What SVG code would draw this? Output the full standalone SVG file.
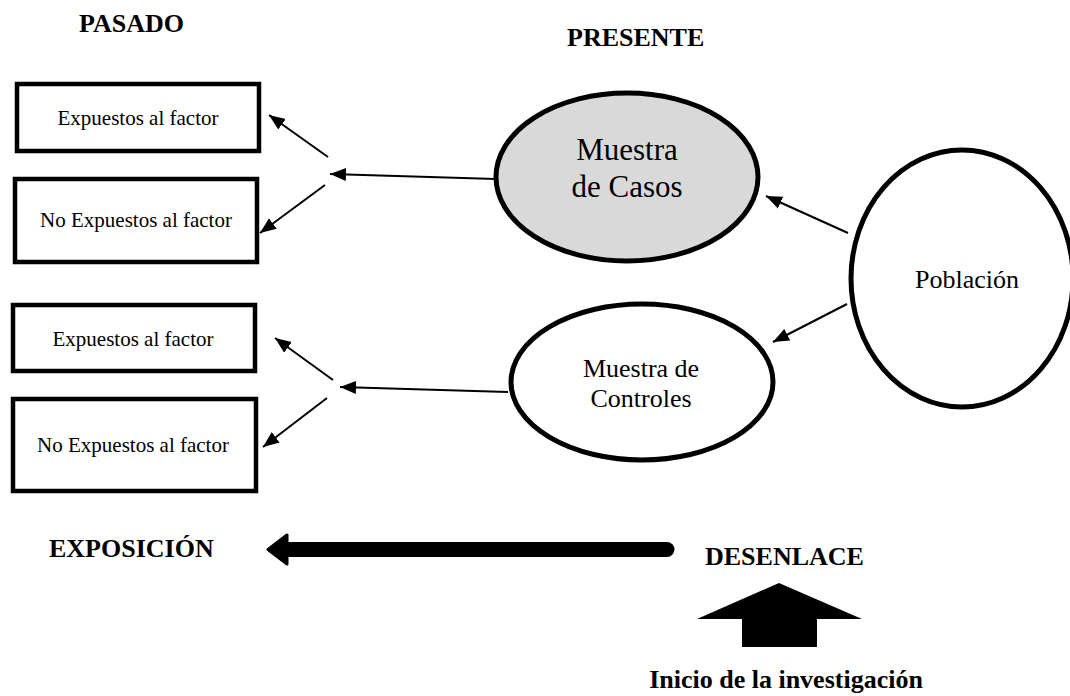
<svg xmlns="http://www.w3.org/2000/svg" width="1070" height="696" viewBox="0 0 1070 696">
<defs>
<style>
.hdr{font-family:"Liberation Serif","Times New Roman",serif;font-weight:bold;font-size:26px;fill:#000}
.box{fill:#fff;stroke:#000;stroke-width:4.5}
.btxt{font-family:"Liberation Serif","Times New Roman",serif;font-size:21px;fill:#000;text-anchor:middle}
.etxt{font-family:"Liberation Serif","Times New Roman",serif;fill:#000;text-anchor:middle}
.ell{stroke:#000;stroke-width:5}
.con{stroke:#000;stroke-width:2;fill:none;marker-end:url(#ah)}
</style>
<marker id="ah" markerUnits="userSpaceOnUse" markerWidth="17" markerHeight="14" refX="16" refY="7" orient="auto">
<path d="M0,0.5 L16,7 L0,13.5 z" fill="#000"/>
</marker>
</defs>
<rect width="1070" height="696" fill="#fff"/>

<text class="hdr" x="79" y="32">PASADO</text>
<text class="hdr" x="567" y="46">PRESENTE</text>

<g id="box-exp1">
<rect class="box" x="17" y="84" width="242" height="67"/>
<text class="btxt" x="138" y="125">Expuestos al factor</text>
</g>
<g id="box-noexp1">
<rect class="box" x="15" y="179" width="242" height="83"/>
<text class="btxt" x="136" y="227">No Expuestos al factor</text>
</g>
<g id="box-exp2">
<rect class="box" x="13" y="305" width="242" height="66"/>
<text class="btxt" x="133" y="346">Expuestos al factor</text>
</g>
<g id="box-noexp2">
<rect class="box" x="13" y="399" width="243" height="92"/>
<text class="btxt" x="133" y="452">No Expuestos al factor</text>
</g>

<g id="casos">
<ellipse class="ell" cx="627" cy="177" rx="131" ry="84" fill="#d9d9d9"/>
<text class="etxt" font-size="31" x="627" y="160">Muestra</text>
<text class="etxt" font-size="31" x="627" y="197">de Casos</text>
</g>
<g id="controles">
<ellipse class="ell" cx="642" cy="382" rx="131" ry="78" fill="#fff"/>
<text class="etxt" font-size="26" x="641" y="377">Muestra de</text>
<text class="etxt" font-size="26" x="641" y="407">Controles</text>
</g>
<g id="poblacion">
<ellipse class="ell" cx="962" cy="278.5" rx="111" ry="128.5" fill="#fff"/>
<text class="etxt" font-size="26" x="967" y="288">Población</text>
</g>

<g id="connectors">
<line class="con" x1="496" y1="179" x2="330" y2="174"/>
<line class="con" x1="328" y1="157" x2="269" y2="115"/>
<line class="con" x1="325" y1="185" x2="260" y2="233"/>
<line class="con" x1="508" y1="392" x2="340" y2="387"/>
<line class="con" x1="333" y1="380" x2="275" y2="338"/>
<line class="con" x1="327" y1="398" x2="263" y2="447"/>
<line class="con" x1="848" y1="233" x2="766" y2="196"/>
<line class="con" x1="847" y1="304" x2="773" y2="342"/>
</g>

<g id="timeline">
<line x1="288" y1="549.5" x2="667" y2="549.5" stroke="#000" stroke-width="15" stroke-linecap="round"/>
<path d="M268,549.5 L287,535 L287,564 z" fill="#000" stroke="#000" stroke-width="3" stroke-linejoin="round"/>
<text class="hdr" x="49" y="557">EXPOSICIÓN</text>
<text class="hdr" x="705" y="565">DESENLACE</text>
</g>

<g id="inicio">
<path d="M779,583 L862,619 L817,619 L817,647 L742,647 L742,619 L697,619 z" fill="#000"/>
<text class="hdr" x="786" y="688" text-anchor="middle">Inicio de la investigación</text>
</g>
</svg>
